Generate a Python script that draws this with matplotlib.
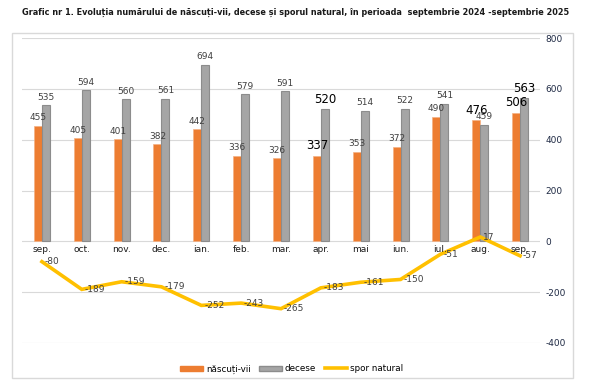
import numpy as np
import matplotlib
matplotlib.use("Agg")
import matplotlib.pyplot as plt
from matplotlib.patches import Rectangle, Patch
from matplotlib.lines import Line2D

# date
luni = ['sep.', 'oct.', 'nov.', 'dec.', 'ian.', 'feb.', 'mar.',
        'apr.', 'mai', 'iun.', 'iul.', 'aug.', 'sep.']
nascuti = [455, 405, 401, 382, 442, 336, 326, 337, 353, 372, 490, 476, 506]
decese = [535, 594, 560, 561, 694, 579, 591, 520, 514, 522, 541, 459, 563]
spor = [-80, -189, -159, -179, -252, -243, -265, -183, -161, -150, -51, 17, -57]

# etichete scrise mai mare in original
mari_nascuti = {7, 11, 12}
mari_decese = {7, 12}

C_NASC = '#ED7D31'
C_DEC = '#A5A5A5'
C_SPOR = '#FFC000'
C_TXT = '#404040'

plt.rcParams['font.family'] = ['DejaVu Sans']
plt.rcParams['axes.unicode_minus'] = False

fig = plt.figure(figsize=(5.92, 3.83), dpi=100)
fig.patches.append(Rectangle((12 / 592, 1 - 378 / 383), 561 / 592, 345 / 383,
                             transform=fig.transFigure, fill=False,
                             edgecolor='#D9D9D9', linewidth=1))
fig.text(0.5, 1 - 12 / 383,
         'Grafic nr 1. Evoluția numărului de născuți-vii, decese și sporul natural, în perioada  septembrie 2024 -septembrie 2025',
         ha='center', va='center', fontsize=5.85, fontweight='bold', color='#1a1a1a')

ax = fig.add_axes([22 / 592, 1 - 343 / 383, 518 / 592, 305 / 383])
x = np.arange(len(luni))
w = 0.2

ax.bar(x - w / 2, nascuti, w, color=C_NASC, edgecolor='#F4B183', linewidth=0.5, zorder=3)
ax.bar(x + w / 2, decese, w, color=C_DEC, edgecolor='#8C8C8C', linewidth=0.8, zorder=3)
ax.plot(x, spor, color=C_SPOR, linewidth=2.6, zorder=4, solid_joinstyle='miter')

for i in x:
    big = i in mari_nascuti
    ax.annotate(str(nascuti[i]), (i - w / 2, nascuti[i]), xytext=(0, 2.5),
                textcoords='offset points', ha='center', va='bottom',
                fontsize=8.5 if big else 6.5, color='black' if big else C_TXT, zorder=5)
    big = i in mari_decese
    ax.annotate(str(decese[i]), (i + w / 2, decese[i]), xytext=(0, 2.5),
                textcoords='offset points', ha='center', va='bottom',
                fontsize=8.5 if big else 6.5, color='black' if big else C_TXT, zorder=5)
    ax.annotate(str(spor[i]), (i, spor[i]), xytext=(2, 0),
                textcoords='offset points', ha='left', va='center',
                fontsize=6.5, color=C_TXT, zorder=5)
    ax.annotate(luni[i], (i, 0), xytext=(0, -3), textcoords='offset points',
                ha='center', va='top', fontsize=6.5, color='#1a1a1a', zorder=5)

ax.set_xlim(-0.5, len(luni) - 0.5)
ax.set_ylim(-400, 800)
ax.set_xticks([])
ax.set_yticks([-400, -200, 0, 200, 400, 600, 800])
ax.yaxis.tick_right()
ax.tick_params(axis='y', length=0, pad=4, labelsize=6.5, labelcolor='#1F2A44')
ax.grid(axis='y', color='#D9D9D9', linewidth=0.8, zorder=0)
for s in ax.spines.values():
    s.set_visible(False)

handles = [Patch(facecolor=C_NASC, edgecolor=C_NASC),
           Patch(facecolor=C_DEC, edgecolor='#8C8C8C'),
           Line2D([0], [0], color=C_SPOR, linewidth=2.6)]
fig.legend(handles, ['născuți-vii', 'decese', 'spor natural'],
           loc='center', bbox_to_anchor=(0.493, 1 - 369 / 383), ncol=3,
           frameon=False, fontsize=6.3, handlelength=2.6, handleheight=0.6,
           columnspacing=1.0, handletextpad=0.3)

fig.savefig('out.png', dpi=100)
